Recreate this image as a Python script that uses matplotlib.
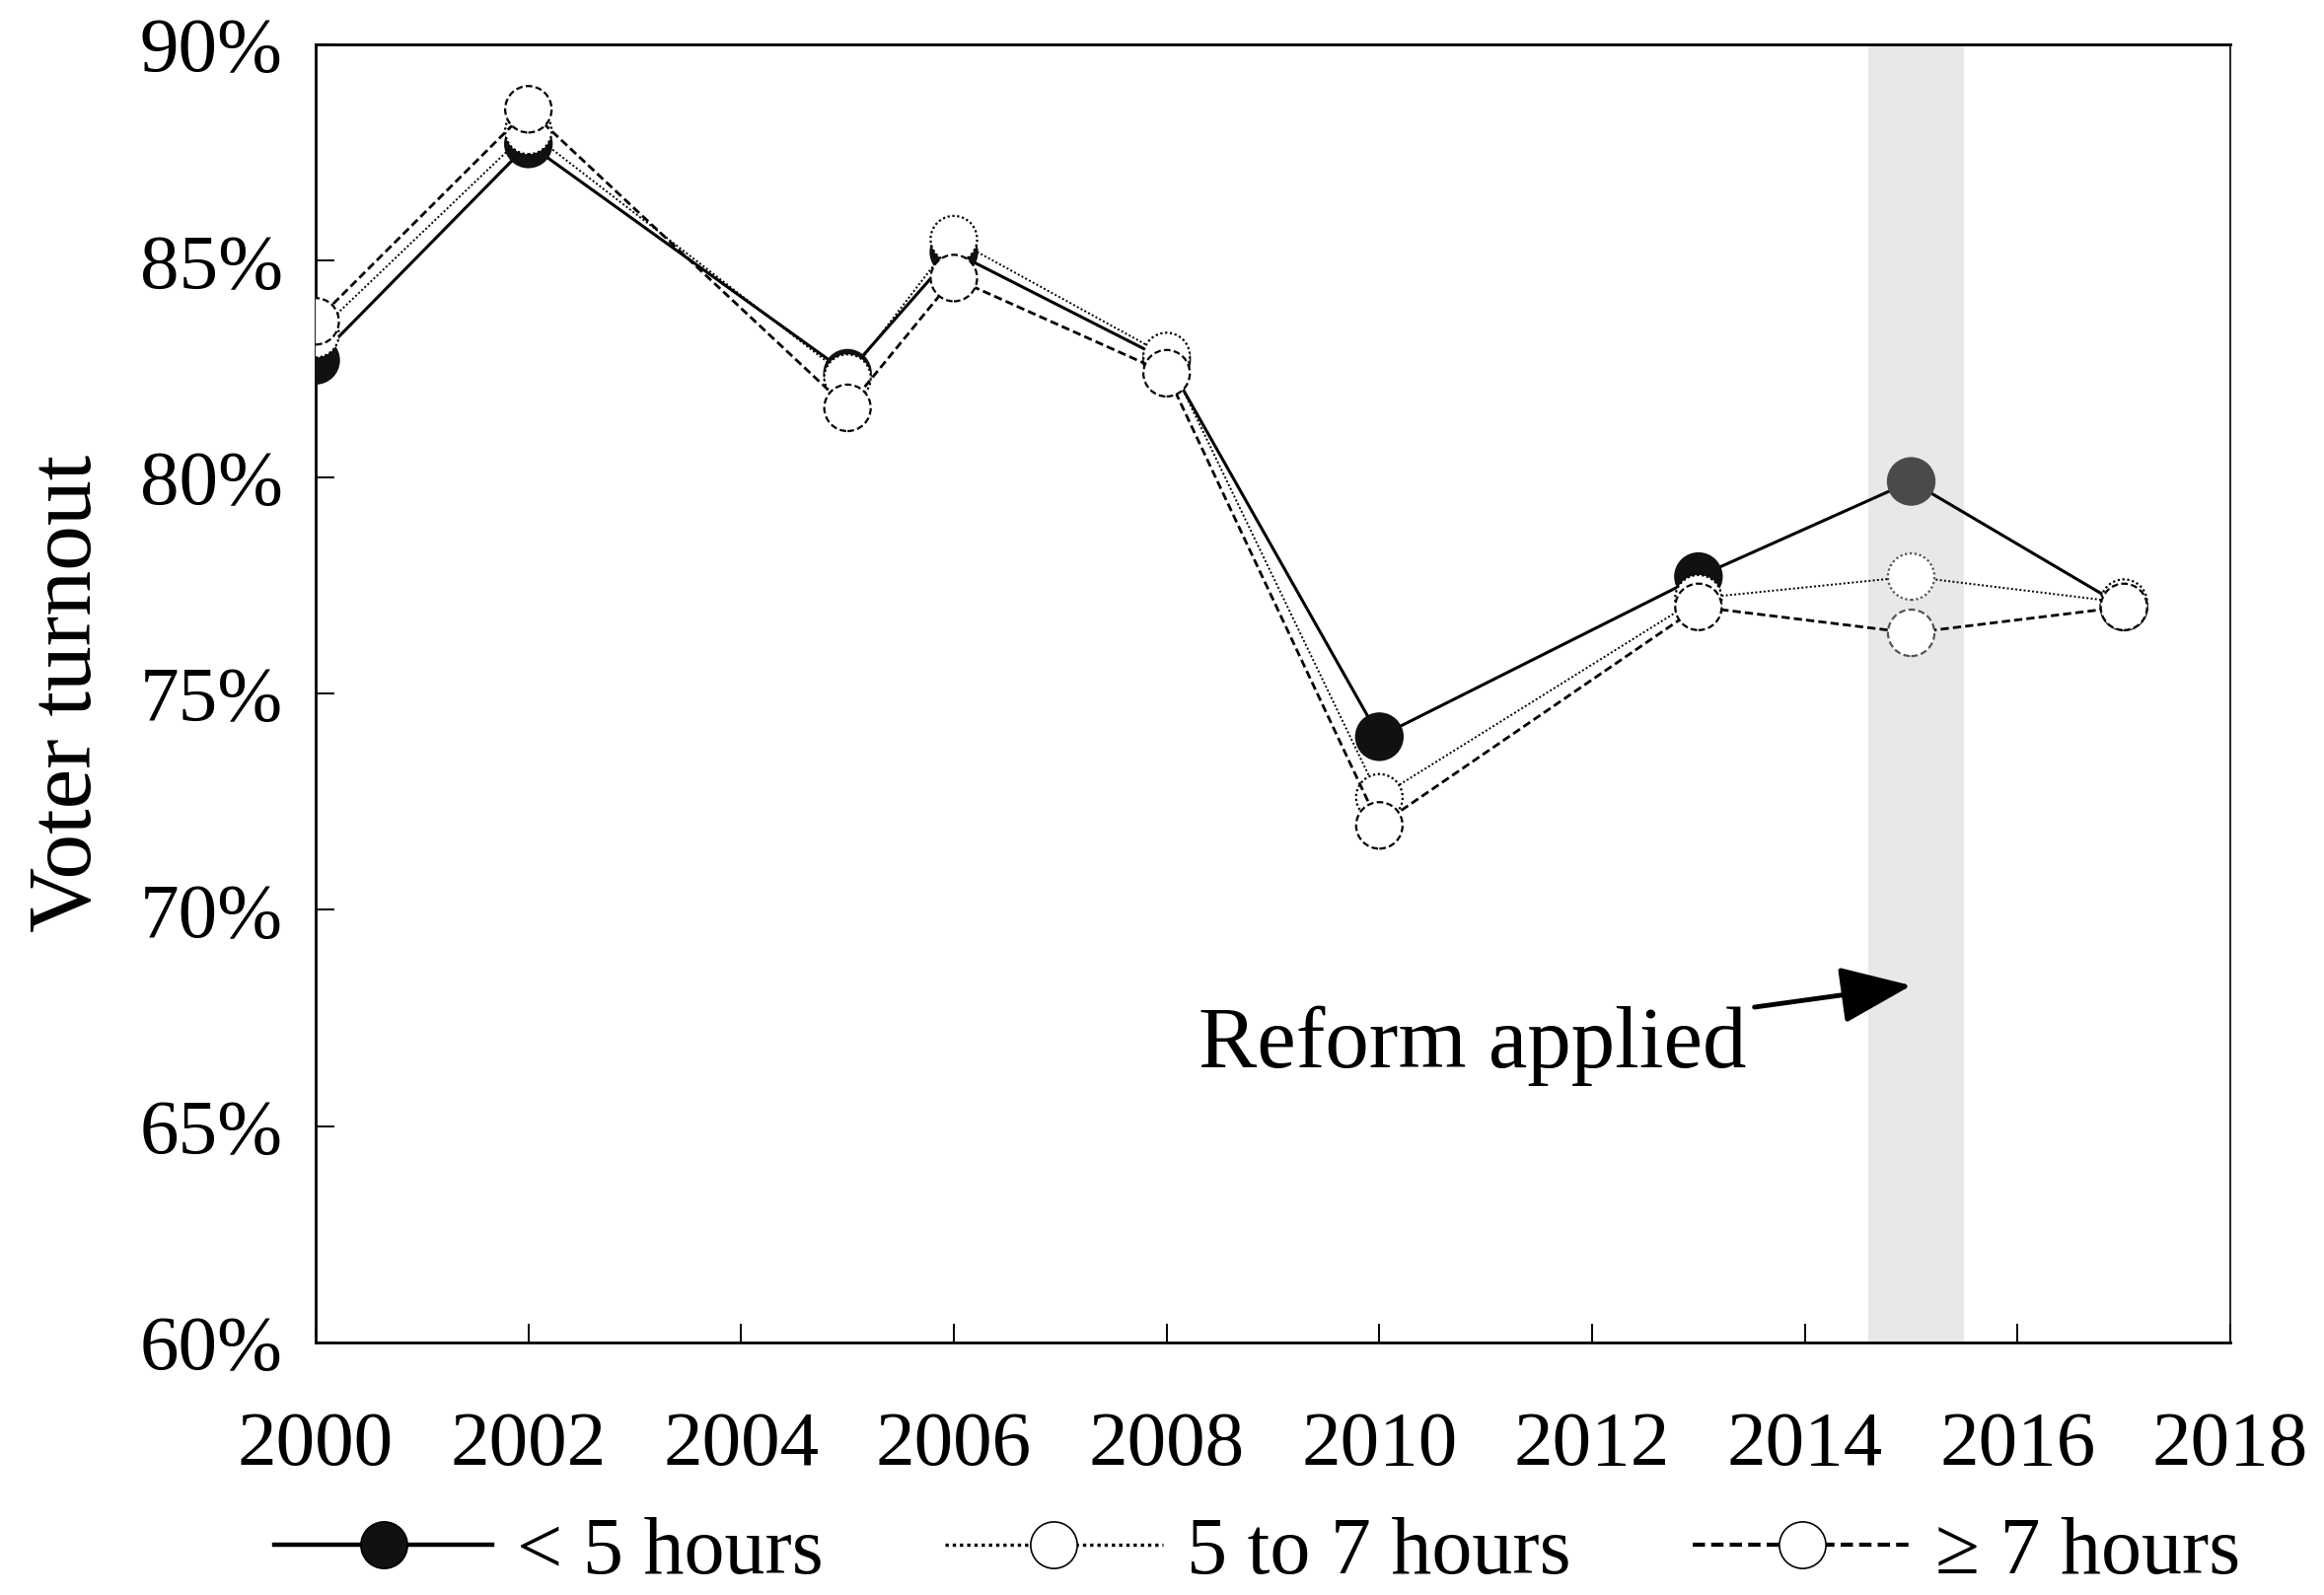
import matplotlib
matplotlib.use("Agg")
import matplotlib.pyplot as plt
from matplotlib.lines import Line2D
import numpy as np

plt.rcParams['font.family'] = ['Liberation Serif', 'DejaVu Serif']

years = [2000, 2002, 2005, 2006, 2008, 2010, 2013, 2015, 2017]
under5 = [82.7, 87.7, 82.4, 85.2, 82.7, 74.0, 77.7, 79.9, 77.0]
five_to7 = [83.3, 88.0, 82.3, 85.5, 82.8, 72.6, 77.2, 77.7, 77.1]
over7 = [83.6, 88.5, 81.6, 84.6, 82.4, 71.95, 77.0, 76.4, 77.0]
labels = ["< 5 hours", "5 to 7 hours", "\u2265 7 hours"]
xticks = list(range(2000, 2019, 2))
yticks = [60, 65, 70, 75, 80, 85, 90]
reform_year = 2015
band = (2014.6, 2015.5)
annot_text = "Reform applied"

W, H = 2356, 1617
fig = plt.figure(figsize=(W / 100, H / 100), dpi=100)
ax = fig.add_axes([320 / W, 1 - 1361 / H, (2261 - 320) / W, (1361 - 45) / H])

ax.axvspan(*band, color='#e8e8e8', zorder=0, lw=0)

series = [under5, five_to7, over7]
lstyles = ['-', (0, (1, 1.2)), (0, (3, 1.5))]
lws = [2.2, 1.4, 2.0]
handles = []
for i, (vals, ls, lw) in enumerate(zip(series, lstyles, lws)):
    ax.plot(years, vals, color='black', ls=ls, lw=lw, zorder=2 + i * 2)
    hl = [y == reform_year for y in years]
    if i == 0:
        fc = ['#4a4a4a' if h else '#111111' for h in hl]
        ec = fc
        mls = '-'
    else:
        fc = ['white'] * len(years)
        ec = ['#555555' if h else 'black' for h in hl]
        mls = ls
    ax.scatter(years, vals, s=1150, facecolors=fc, edgecolors=ec,
               linewidths=1.6, linestyles=mls, zorder=3 + i * 2)
    handles.append(Line2D([], [], color='black', ls=ls, lw=lw + 1.0,
                          marker='o', markersize=34,
                          markerfacecolor=('#111111' if i == 0 else 'white'),
                          markeredgecolor='black', markeredgewidth=1.2))

ax.annotate(annot_text, xy=(2015.0, 68.25), xytext=(2013.45, 66.85),
            ha='right', va='center', fontsize=64,
            arrowprops=dict(arrowstyle='-|>,head_length=0.7,head_width=0.28',
                            color='black', lw=3.5, shrinkA=4, shrinkB=0))

ax.set_xlim(2000, 2018)
ax.set_ylim(60, 90)
ax.set_xticks(xticks)
ax.set_xticklabels([str(x) for x in xticks])
ax.set_yticks(yticks)
ax.set_yticklabels([f"{y}%" for y in yticks])
ax.tick_params(axis='both', direction='in', length=14, width=1.4,
               labelsize=57, top=False, right=False)
ax.tick_params(axis='x', pad=50)
ax.tick_params(axis='y', pad=24)
ax.set_ylabel("Voter turnout", fontsize=66, labelpad=22)
for s in ['left', 'top', 'bottom']:
    ax.spines[s].set_linewidth(2.0)
ax.spines['right'].set_linewidth(1.2)

fig.legend(handles, labels, loc='center', bbox_to_anchor=(0.541, 0.026),
           ncol=3, frameon=False, fontsize=59, handlelength=2.7,
           numpoints=1, handletextpad=0.3, columnspacing=1.5)

fig.savefig("out.png", dpi=100)
